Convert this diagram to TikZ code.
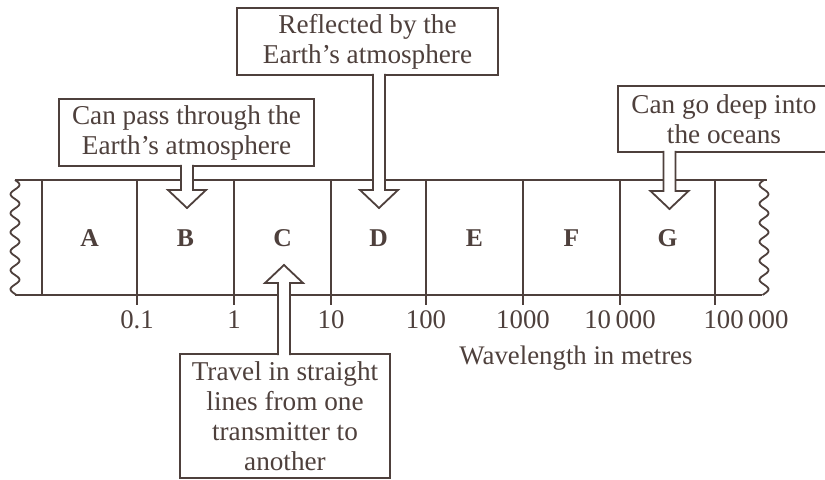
\documentclass[tikz,border=0pt]{standalone}
\usepackage{fontspec}
\setmainfont{Liberation Serif}
\usetikzlibrary{calc}
\definecolor{ink}{RGB}{78,64,60}
\tikzset{
	label box/.style={draw=ink, line width=0.9bp, fill=white, align=center, inner sep=0pt, text=ink},
	band letter/.style={font=\fontsize{12.8bp}{14bp}\selectfont\bfseries, text=ink},
	scale label/.style={font=\fontsize{13.4bp}{15bp}\selectfont, text=ink}
}
% hollow block arrow from a tail point to its tip
\newcommand{\blockarrow}[2]{%
	\fill[white] let \p1=(#1), \p2=(#2), \n1={sign(\y1-\y2)} in
		(\x1-3bp,\y1) -- (\x1-3bp,\y2+\n1*9bp) -- (\x1-9.5bp,\y2+\n1*9bp) -- (\x2,\y2)
		-- (\x1+9.5bp,\y2+\n1*9bp) -- (\x1+3bp,\y2+\n1*9bp) -- (\x1+3bp,\y1) -- cycle;
	\draw let \p1=(#1), \p2=(#2), \n1={sign(\y1-\y2)} in
		(\x1-3bp,\y1) -- (\x1-3bp,\y2+\n1*9bp) -- (\x1-9.5bp,\y2+\n1*9bp) -- (\x2,\y2)
		-- (\x1+9.5bp,\y2+\n1*9bp) -- (\x1+3bp,\y2+\n1*9bp) -- (\x1+3bp,\y1);
}
\begin{document}
\begin{tikzpicture}[x=0.5bp, y=-0.5bp, draw=ink, line width=0.9bp, line join=miter]
	\useasboundingbox (0,0) rectangle (825,480);
	\clip (0,0) rectangle (825,480);
	\fill[white] (0,0) rectangle (825,480);

	% the band
	\draw (15,180) -- (767,180);
	\draw (15,295) -- (762,295);
	\draw plot[domain=180:295, samples=90, smooth] ({15+4.5*sin((\x-180)/19*360)}, \x);
	\draw plot[domain=180:295, samples=90, smooth] ({764-4.5*sin((\x-180)/19*360)}, \x);
	\draw (42,180) -- (42,295);
	\foreach \x/\val in {137/0.1, 234/1, 331/10, 426/100, 523/1000, 620/10\,000} {
		\draw (\x,180) -- (\x,305);
		\node[scale label] at (\x,320) {\val};
	}
	\draw (715,180) -- (715,305);
	\node[scale label] at (746,320) {100\,000};
	\foreach \x/\lab in {89.5/A, 185.5/B, 282.5/C, 378.5/D, 474.5/E, 571.5/F, 667.5/G}
		\node[band letter] (\lab) at (\x,238) {\lab};
	\node[scale label] (axis) at (576,358) {Wavelength in metres};

	% the labels
	\node[label box, minimum width=127.5bp, minimum height=33.5bp, font=\fontsize{13.6bp}{15bp}\selectfont]
		(boxB) at (186.5,132.5) {Can pass through the\\Earth's atmosphere};
	\node[label box, minimum width=130.5bp, minimum height=33.5bp, font=\fontsize{13.6bp}{15bp}\selectfont]
		(boxD) at (367.5,41.5) {Reflected by the\\Earth's atmosphere};
	\node[label box, minimum width=106bp, minimum height=33bp, font=\fontsize{13.6bp}{15bp}\selectfont]
		(boxG) at (724,119) {Can go deep into\\the oceans};
	\node[label box, minimum width=105bp, minimum height=62bp, font=\fontsize{13.6bp}{15bp}\selectfont]
		(boxC) at (285,416) {Travel in straight\\lines from one\\transmitter to\\another};

	\coordinate (tipB) at (187,208);
	\coordinate (tipD) at (379,208);
	\coordinate (tipG) at (669.5,209);
	\coordinate (tipC) at (284,265);
	\coordinate (tailB) at ([yshift=1bp]boxB.south -| tipB);
	\coordinate (tailD) at ([yshift=1bp]boxD.south -| tipD);
	\coordinate (tailG) at ([yshift=1bp]boxG.south -| tipG);
	\coordinate (tailC) at ([yshift=-1bp]boxC.north -| tipC);
	\blockarrow{tailB}{tipB}
	\blockarrow{tailD}{tipD}
	\blockarrow{tailG}{tipG}
	\blockarrow{tailC}{tipC}
\end{tikzpicture}
\end{document}
